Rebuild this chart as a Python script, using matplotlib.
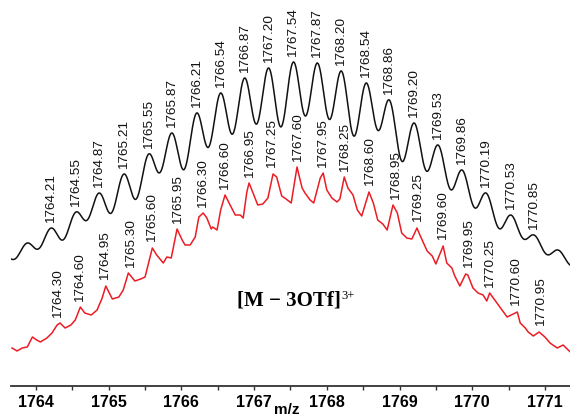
import numpy as np
import matplotlib
matplotlib.use("Agg")
import matplotlib.pyplot as plt
from matplotlib.ticker import MultipleLocator

# ---------------- data ----------------
# Simulated isotope pattern (black): peak m/z and apparent peak heights
sim_mz = [1763.22, 1763.55, 1763.88, 1764.21, 1764.55, 1764.87, 1765.21,
          1765.55, 1765.87, 1766.21, 1766.54, 1766.87, 1767.20, 1767.54,
          1767.87, 1768.20, 1768.54, 1768.86, 1769.20, 1769.53, 1769.86,
          1770.19, 1770.53, 1770.85, 1771.18, 1771.52]
sim_height = [25, 35, 47, 62, 78, 97, 116, 136, 157, 177, 197, 212, 222, 228,
              227, 219, 207, 190, 167, 145, 120, 97, 75, 55, 40, 28]
sim_labels = ["1764.21", "1764.55", "1764.87", "1765.21", "1765.55", "1765.87",
              "1766.21", "1766.54", "1766.87", "1767.20", "1767.54", "1767.87",
              "1768.20", "1768.54", "1768.86", "1769.20", "1769.53", "1769.86",
              "1770.19", "1770.53", "1770.85"]

# Experimental spectrum (red): m/z and intensity
exp_mz = [1763.67, 1763.74, 1763.81, 1763.88, 1763.95, 1764.01, 1764.06, 1764.15,
          1764.22, 1764.29, 1764.33, 1764.40, 1764.48, 1764.54, 1764.61, 1764.67,
          1764.76, 1764.84, 1764.91, 1764.96, 1765.05, 1765.14, 1765.20, 1765.27,
          1765.36, 1765.44, 1765.50, 1765.60, 1765.66, 1765.75, 1765.80, 1765.86,
          1765.94, 1766.01, 1766.05, 1766.12, 1766.19, 1766.24, 1766.30, 1766.35,
          1766.41, 1766.43, 1766.49, 1766.54, 1766.60, 1766.67, 1766.74, 1766.81,
          1766.85, 1766.90, 1766.93, 1766.98, 1767.05, 1767.12, 1767.19, 1767.26,
          1767.31, 1767.38, 1767.44, 1767.51, 1767.59, 1767.66, 1767.70, 1767.77,
          1767.82, 1767.91, 1767.95, 1768.00, 1768.07, 1768.14, 1768.18, 1768.24,
          1768.29, 1768.36, 1768.42, 1768.48, 1768.58, 1768.64, 1768.70, 1768.77,
          1768.83, 1768.91, 1768.97, 1769.03, 1769.10, 1769.17, 1769.24, 1769.28,
          1769.38, 1769.45, 1769.50, 1769.60, 1769.65, 1769.72, 1769.76, 1769.83,
          1769.91, 1769.94, 1770.01, 1770.08, 1770.15, 1770.20, 1770.24, 1770.31,
          1770.38, 1770.48, 1770.62, 1770.66, 1770.73, 1770.77, 1770.84, 1770.92,
          1771.00, 1771.07, 1771.17, 1771.25, 1771.32, 1771.35]
exp_int = [38, 35, 38, 39, 49, 46, 44, 48,
           53, 61, 63, 58, 61, 66, 79, 73,
           71, 76, 88, 100, 87, 89, 96, 113,
           105, 107, 109, 138, 131, 123, 129, 128,
           157, 146, 141, 141, 149, 169, 173, 168,
           157, 159, 156, 176, 191, 181, 171, 171,
           168, 194, 203, 194, 181, 182, 188, 212,
           209, 190, 187, 183, 219, 198, 193, 186,
           183, 208, 213, 196, 188, 184, 187, 209,
           198, 191, 176, 170, 194, 183, 166, 162,
           156, 181, 173, 153, 148, 147, 158, 151,
           135, 130, 122, 140, 123, 118, 110, 100,
           112, 111, 98, 93, 91, 85, 93, 86,
           79, 69, 74, 63, 58, 54, 50, 54,
           49, 43, 38, 41, 36, 34]
exp_labels = ["1764.30", "1764.60", "1764.95", "1765.30", "1765.60", "1765.95",
              "1766.30", "1766.60", "1766.95", "1767.25", "1767.60", "1767.95",
              "1768.25", "1768.60", "1768.95", "1769.25", "1769.60", "1769.95",
              "1770.25", "1770.60", "1770.95"]

xticks = [1764, 1765, 1766, 1767, 1768, 1769, 1770, 1771]
xlabel = "m/z"
species = "[M \u2212 3OTf]"
charge = "3+"

# ---------------- figure ----------------
W, H = 570, 418
fig = plt.figure(figsize=(W / 100, H / 100), dpi=100)
ax = fig.add_axes([11 / W, (H - 386) / H, (W - 11) / W, 386 / H])
ax.set_xlim(1763.656, 1771.345)
ax.set_ylim(0, 386)

# black simulated profile: Gaussian broadening of the stick pattern
sim_offset = 96
sigma = 0.122
mu = np.array(sim_mz)
G = np.exp(-(mu[:, None] - mu[None, :]) ** 2 / (2 * sigma ** 2))
amp = np.linalg.solve(G, np.array(sim_height, float))
xs = np.linspace(1763.4, 1771.6, 3000)
prof = (amp[None, :] * np.exp(-(xs[:, None] - mu[None, :]) ** 2 / (2 * sigma ** 2))).sum(axis=1)
ax.plot(xs, prof + sim_offset, color="#111111", lw=1.1)

# red experimental trace
red = "#ec1c24"
ax.plot(exp_mz, exp_int, color=red, lw=1.1)

lab_font = dict(family=["Liberation Sans", "DejaVu Sans"], fontsize=9.7,
                rotation=90, ha="center", va="bottom", color="#111111")
for lab in sim_labels:
    m = float(lab)
    y = np.interp(m, xs, prof) + sim_offset
    ax.text(m, y + 5.5, lab, **lab_font)

em = np.array(exp_mz)
ei = np.array(exp_int)
for lab in exp_labels:
    m = float(lab)
    sel = np.abs(em - m) <= 0.05
    y = ei[sel].max()
    ax.text(m, y + 5.5, lab, **lab_font)

# species annotation
t = ax.text(1766.76, 81, species, family=["Liberation Serif", "DejaVu Serif"],
            fontsize=15, fontweight="bold", ha="left", va="baseline")
ax.annotate(charge, xy=(1, 1), xycoords=t, xytext=(0.5, 0),
            textcoords="offset points", ha="left", va="top",
            family=["Liberation Serif", "DejaVu Serif"], fontsize=9)

# axes styling
for s in ("left", "right", "top"):
    ax.spines[s].set_visible(False)
ax.spines["bottom"].set_color("#333333")
ax.spines["bottom"].set_linewidth(1.3)
ax.set_yticks([])
ax.set_xticks(xticks)
ax.set_xticklabels([str(v) for v in xticks])
ax.xaxis.set_minor_locator(MultipleLocator(0.5))
ax.tick_params(axis="x", which="both", direction="out", length=3, width=1,
               color="#333333", pad=3.5)
for lbl in ax.get_xticklabels():
    lbl.set_fontfamily(["Liberation Sans", "DejaVu Sans"])
    lbl.set_fontweight("bold")
    lbl.set_fontsize(11.5)
ax.set_xlabel(xlabel, fontfamily=["Liberation Sans", "DejaVu Sans"],
              fontweight="bold", fontsize=11)
ax.xaxis.set_label_coords((287 - 11) / (W - 11), (386 - 403) / 386)

fig.savefig("out.png", dpi=100)
